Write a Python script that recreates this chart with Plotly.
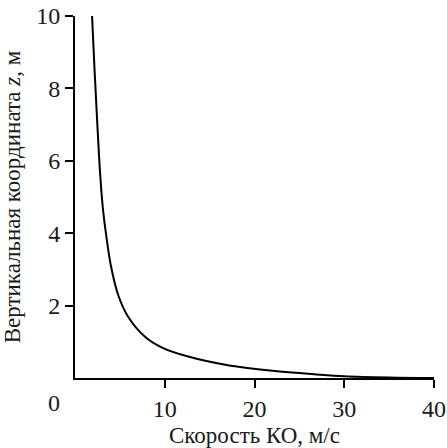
import plotly.graph_objects as go

# Curve data
speed = [1.9, 2.2, 2.5, 2.8, 3.1, 3.5, 4.0, 4.8, 5.9, 7.8, 9.7, 12.5, 16.9, 22.0, 26.9, 30.0, 35.0, 40.0]
height = [10.0, 8.4, 6.95, 5.65, 4.7, 3.9, 3.1, 2.3, 1.7, 1.14, 0.84, 0.6, 0.36, 0.2, 0.1, 0.05, 0.015, 0.0]

x_ticks = [10, 20, 30, 40]
y_ticks = [2, 4, 6, 8, 10]

FONT = "Liberation Serif"

fig = go.Figure()
fig.add_trace(go.Scatter(x=speed, y=height, mode="lines",
                         line=dict(color="black", width=2, shape="spline", smoothing=1.0),
                         showlegend=False, hoverinfo="skip"))

fig.update_layout(
    width=447, height=448,
    margin=dict(l=75, r=13, t=16, b=70),
    paper_bgcolor="white", plot_bgcolor="white",
    font=dict(family=FONT, color="#1a1a1a", size=23),
    xaxis=dict(range=[0, 40], tickvals=x_ticks, ticks="outside", ticklen=8, tickwidth=2,
               tickcolor="black", showline=True, linecolor="black", linewidth=2,
               showgrid=False, zeroline=False, automargin=False,
               tickfont=dict(family=FONT, size=24),
               title=dict(text="Скорость КО, м/с", font=dict(family=FONT, size=23), standoff=8)),
    yaxis=dict(range=[0, 10], tickvals=y_ticks, ticks="outside", ticklen=8, tickwidth=2,
               tickcolor="black", showline=True, linecolor="black", linewidth=2,
               showgrid=False, zeroline=False, automargin=False,
               tickfont=dict(family=FONT, size=24),
               title=dict(text="Вертикальная координата <i>z</i>, м", font=dict(family=FONT, size=23), standoff=10)),
)

fig.add_annotation(text="0", xref="paper", yref="paper", x=-0.058, y=-0.069,
                   xanchor="center", yanchor="middle", showarrow=False,
                   font=dict(family=FONT, size=24, color="#1a1a1a"))

fig.write_html("out.html")
